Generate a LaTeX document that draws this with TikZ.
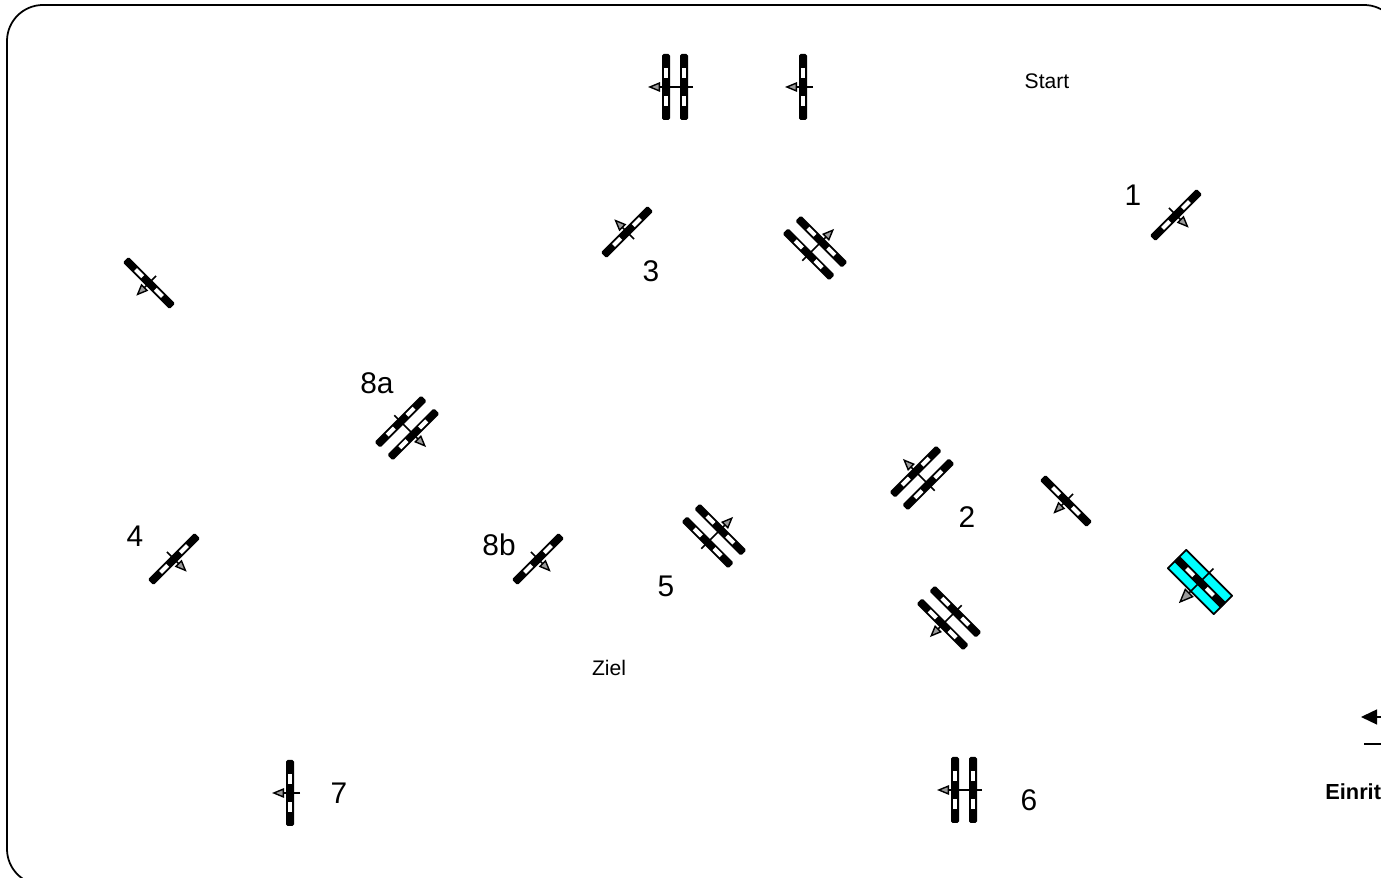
\documentclass[tikz,border=0pt]{standalone}
\usepackage{fontspec}
\setmainfont{Liberation Sans}
\usepackage{tikz}
\usetikzlibrary{arrows.meta, positioning}

\definecolor{flagcyan}{RGB}{0,255,255}

\tikzset{
  frameline/.style={draw=black, line width=1pt, rounded corners=0.72cm},
  barblack/.style={fill=black, rounded corners=0.9pt},
  barhole/.style={fill=white, draw=none},
  flyarrow/.style={-{Triangle[length=2.4mm, width=1.9mm, fill=gray!80, line width=0.8pt]}, line width=0.9pt, draw=black},
  bigarrow/.style={-{Triangle[length=3mm, width=2.4mm, fill=gray!80, line width=0.8pt]}, line width=0.9pt, draw=black},
  flagbox/.style={fill=flagcyan, draw=black, line width=1pt, line join=round},
  numlabel/.style={inner sep=0pt, font=\fontsize{17}{17}\selectfont},
  smalllabel/.style={inner sep=0pt, font=\fontsize{12}{12}\selectfont},
  entrylabel/.style={inner sep=0pt, anchor=west, font=\fontsize{12.4}{12.4}\selectfont\bfseries},
  legendtip/.style={-{Triangle[length=3.2mm, width=3mm, fill=black]}, line width=0.8pt},
  pics/gatebar/.style={code={
    \fill[barblack] (-0.08,-0.66) -- (0.08,-0.66) -- (0.08,0.66) -- (-0.08,0.66) -- cycle;
    \fill[barhole] (-0.042,0.18) rectangle (0.042,0.38);
    \fill[barhole] (-0.042,-0.38) rectangle (0.042,-0.18);
  }},
  pics/gatesingle/.style={code={
    \pic[transform shape] {gatebar};
    \coordinate (-tail) at (0.2,0);
    \coordinate (-tip) at (-0.36,0);
    \draw[flyarrow] (-tail) -- (-tip);
  }},
  pics/gatedouble/.style={code={
    \pic[transform shape] at (-0.18,0) {gatebar};
    \pic[transform shape] at (0.18,0) {gatebar};
    \coordinate (-tail) at (0.36,0);
    \coordinate (-tip) at (-0.54,0);
    \draw[flyarrow] (-tail) -- (-tip);
  }}
}

\begin{document}
\begin{tikzpicture}

\useasboundingbox (0,0) rectangle (27.62,17.56);
\clip (0,0) rectangle (27.62,17.56);

% course frame
\draw[frameline] (0.14,-0.14) rectangle (28.0,17.46);

% gates
\pic (topdouble) at (13.5,15.82) {gatedouble};
\pic (topsingle) at (16.06,15.82) {gatesingle};
\pic[rotate=135] (gone) at (23.52,13.26) {gatesingle};
\pic[rotate=-45] (gthree) at (12.54,12.92) {gatesingle};
\pic[rotate=-135] (gupper) at (16.3,12.6) {gatedouble};
\pic[rotate=45] (gleft) at (2.98,11.9) {gatesingle};
\pic[rotate=135] (geighta) at (8.14,9.0) {gatedouble};
\pic[rotate=135] (gfour) at (3.48,6.38) {gatesingle};
\pic[rotate=135] (geightb) at (10.76,6.38) {gatesingle};
\pic[rotate=-135] (gfive) at (14.28,6.84) {gatedouble};
\pic[rotate=-45] (gtwo) at (18.44,8.0) {gatedouble};
\pic[rotate=45] (gright) at (21.32,7.54) {gatesingle};
\pic[rotate=45] (glower) at (18.98,5.2) {gatedouble};
\pic (gseven) at (5.8,1.7) {gatesingle};
\pic (gsix) at (19.28,1.76) {gatedouble};

% entry gate
\begin{scope}[shift={(24.0,5.92)}, rotate=45]
  \draw[flagbox] (-0.26,-0.65) rectangle (0.26,0.65);
  \pic[transform shape] at (0,0) {gatebar};
  \coordinate (entrytail) at (0.38,0);
  \coordinate (entrytip) at (-0.6,0);
  \draw[bigarrow] (entrytail) -- (entrytip);
\end{scope}

% legend
\coordinate (legendtail) at (28.0,3.22);
\coordinate (legendtip) at (27.22,3.22);
\draw[legendtip] (legendtail) -- (legendtip);
\coordinate (legendleft) at (27.28,2.68);
\coordinate (legendright) at (28.0,2.68);
\draw[line width=0.8pt] (legendleft) -- (legendright);

% labels
\node[smalllabel] (labstart) at (20.94,15.94) {Start};
\node[smalllabel] (labziel) at (12.18,4.2) {Ziel};
\node[numlabel] (labone) at (22.66,13.66) {1};
\node[numlabel] (labthree) at (13.02,12.14) {3};
\node[numlabel] (labeighta) at (7.54,9.9) {8a};
\node[numlabel] (labeightb) at (9.98,6.66) {8b};
\node[numlabel] (labtwo) at (19.34,7.22) {2};
\node[numlabel] (labfive) at (13.32,5.84) {5};
\node[numlabel] (labfour) at (2.7,6.84) {4};
\node[numlabel] (labseven) at (6.78,1.7) {7};
\node[numlabel] (labsix) at (20.58,1.56) {6};
\node[entrylabel] (labentry) at (26.5,1.72) {Einrit};

\end{tikzpicture}
\end{document}
